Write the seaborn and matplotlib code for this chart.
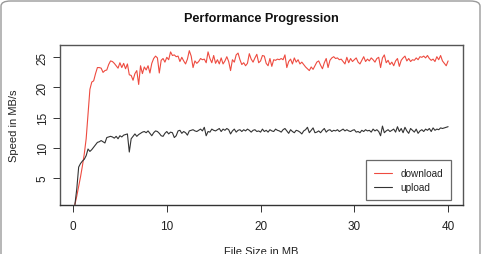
import numpy as np
import pandas as pd
import matplotlib
matplotlib.use("Agg")
import matplotlib.pyplot as plt
from matplotlib.patches import FancyBboxPatch
from matplotlib.lines import Line2D
import seaborn as sns

# ---- data ----
download = [
    0.6, 2.0, 3.6, 5.2, 7.0, 9.0, 11.5, 15.5, 19.7, 20.9,
    21.1, 22.3, 23.3, 23.3, 23.2, 22.5, 22.8, 22.9, 23.8, 24.4,
    24.3, 24.0, 23.6, 23.2, 24.1, 23.3, 24.0, 23.1, 23.9, 22.1,
    22.0, 21.2, 22.3, 22.8, 20.5, 23.6, 22.3, 23.4, 22.9, 23.6,
    22.4, 24.0, 24.8, 25.2, 24.9, 22.4, 24.5, 24.8, 24.2, 25.0,
    24.6, 25.9, 25.3, 25.4, 25.1, 25.2, 24.3, 25.0, 24.4, 23.9,
    24.7, 26.1, 25.2, 23.3, 24.4, 24.0, 24.3, 24.8, 24.6, 24.7,
    24.1, 25.9, 24.8, 24.1, 25.3, 24.0, 24.6, 23.9, 24.9, 23.9,
    24.4, 25.1, 24.3, 22.8, 24.6, 24.2, 25.4, 25.7, 24.6, 23.8,
    24.1, 23.6, 24.0, 25.6, 24.7, 24.2, 24.9, 25.5, 24.1, 24.4,
    25.3, 25.2, 24.0, 23.6, 24.8, 23.5, 24.6, 24.5, 24.7, 24.6,
    24.8, 24.6, 25.4, 23.3, 24.3, 24.7, 23.9, 24.9, 24.2, 24.6,
    23.9, 24.2, 23.8, 23.4, 23.1, 22.8, 23.4, 23.0, 23.6, 24.2,
    24.4, 23.7, 23.1, 24.1, 24.8, 23.3, 24.5, 24.9, 25.1, 24.8,
    24.9, 24.6, 24.7, 24.3, 23.9, 25.0, 24.1, 24.8, 24.3, 24.6,
    24.9, 24.2, 23.9, 24.5, 25.1, 24.3, 24.7, 24.4, 24.9, 24.6,
    24.2, 24.8, 25.0, 23.3, 24.9, 25.4, 24.1, 24.5, 23.8, 24.2,
    23.6, 24.4, 24.8, 23.5, 24.5, 24.9, 25.2, 24.4, 24.8, 24.3,
    24.6, 24.5, 24.9, 24.6, 25.1, 25.0, 25.2, 24.9, 25.3, 24.8,
    24.5, 24.7, 24.3, 25.1, 24.6, 25.3, 24.4, 24.0, 23.6, 24.4,
]
upload = [
    0.6, 3.2, 6.8, 7.4, 7.8, 8.1, 8.7, 9.8, 9.4, 9.7,
    10.1, 10.5, 10.9, 11.0, 11.2, 11.0, 10.8, 11.7, 11.8, 11.9,
    11.8, 11.6, 11.9, 11.5, 12.0, 11.8, 12.1, 12.2, 12.3, 9.3,
    11.5, 11.9, 12.3, 11.9, 12.2, 12.4, 12.6, 12.7, 12.5, 12.8,
    12.4, 12.0, 12.5, 12.8, 12.7, 12.4, 12.0, 11.9, 12.4, 12.7,
    12.3, 12.6, 12.5, 11.7, 12.0, 12.8, 12.9, 12.4, 12.7, 12.5,
    12.1, 12.8, 12.9, 13.0, 12.8, 12.7, 12.9, 13.1, 12.8, 13.4,
    12.0, 12.7, 12.6, 13.1, 12.9, 12.8, 13.0, 13.2, 12.7, 13.1,
    12.9, 13.2, 13.0, 12.3, 12.8, 13.1, 12.6, 12.9, 13.0, 12.7,
    13.0, 12.8, 13.1, 12.9, 12.6, 12.9, 13.0, 12.7, 12.8, 12.6,
    13.1, 12.7, 12.9, 12.6, 13.0, 12.8, 12.7, 13.1, 12.9, 12.8,
    12.6, 13.0, 13.2, 12.8, 12.4, 13.0, 12.7, 12.5, 12.9, 12.8,
    12.6, 12.3, 12.8, 13.0, 13.4, 12.5, 12.9, 13.3, 12.5, 12.6,
    12.8, 12.5, 12.9, 13.2, 12.6, 12.9, 13.0, 12.7, 12.9, 12.8,
    13.0, 12.7, 12.9, 13.1, 12.8, 13.0, 12.8, 12.7, 12.9, 13.0,
    12.6, 12.7, 12.5, 12.9, 12.7, 13.0, 12.8, 12.9, 12.6, 13.1,
    12.8, 13.0, 12.7, 12.0, 13.6, 12.5, 12.8, 13.0, 12.7, 12.9,
    13.1, 12.6, 13.5, 12.7, 13.2, 12.5, 13.4, 12.8, 12.4, 13.2,
    12.9, 12.6, 13.1, 12.4, 12.8, 13.0, 12.7, 13.1, 12.9, 13.2,
    12.7, 13.3, 12.9, 13.1, 13.0, 13.3, 13.2, 13.3, 13.4, 13.5,
]
file_size = np.round(np.arange(1, len(download) + 1) * 0.2, 1)
series_names = ["download", "upload"]
series_colors = ["#EE4B40", "#333333"]
x_ticks = [0, 10, 20, 30, 40]
y_ticks = [5, 10, 15, 20, 25]

df = pd.DataFrame({
    "size": np.concatenate([file_size, file_size]),
    "speed": np.concatenate([download, upload]),
    "kind": ["download"] * len(download) + ["upload"] * len(upload),
})

sns.set_style("white")
plt.rcParams["font.family"] = ["Liberation Sans", "DejaVu Sans"]

W, H = 482, 255
fig = plt.figure(figsize=(W / 100, H / 100), dpi=100)
ax = fig.add_axes([60 / W, 1 - 206 / H, (463 - 60) / W, (206 - 46) / H])

sns.lineplot(data=df, x="size", y="speed", hue="kind", hue_order=series_names,
             palette=series_colors, linewidth=0.8, ax=ax, legend=False)

ax.set_xlim(-1.39, 41.59)
ax.set_ylim(0.52, 27.04)
ax.set_xticks(x_ticks)
ax.set_yticks(y_ticks)
ax.set_xticklabels([str(t) for t in x_ticks], fontsize=8.5, color="#222222")
ax.set_yticklabels([str(t) for t in y_ticks], fontsize=8.5, color="#222222",
                   rotation=90, va="center")
ax.tick_params(axis="both", direction="out", length=5, width=0.7, color="#333333",
               bottom=True, left=True)
ax.tick_params(axis="x", pad=6)
ax.tick_params(axis="y", pad=3)
ax.set_xlabel("")
ax.set_ylabel("")
for s in ax.spines.values():
    s.set_visible(True)
    s.set_color("#555555")
    s.set_linewidth(1.0)
ax.spines["bottom"].set_color("#333333")

handles = [Line2D([], [], color=c, lw=0.8) for c in series_colors]
leg = ax.legend(handles, series_names, loc="lower right",
                bbox_to_anchor=(0.970, 0.031), borderaxespad=0,
                fontsize=7.2, frameon=True, fancybox=False,
                handlelength=1.8, handletextpad=0.8, borderpad=0.8,
                labelspacing=0.4)
leg.get_frame().set_edgecolor("#444444")
leg.get_frame().set_linewidth(0.9)
for t in leg.get_texts():
    t.set_color("#222222")

fig.text(261.5 / W, 1 - 19.5 / H, "Performance Progression", ha="center",
         va="center", fontsize=9.1, fontweight="bold", color="#111111")
fig.text(14 / W, 1 - 126 / H, "Speed in MB/s", rotation=90, ha="center",
         va="center", fontsize=8, color="#222222")
fig.text(261.5 / W, 1 - 252 / H, "File Size in MB", ha="center",
         va="center", fontsize=8, color="#222222")

border = FancyBboxPatch((1 / W, -20 / H), (W - 3) / W, (H + 18) / H,
                        boxstyle="round,pad=0,rounding_size=0.02",
                        transform=fig.transFigure, fill=False,
                        edgecolor="#9a9a9a", linewidth=1.0)
fig.patches.append(border)

fig.savefig("out.png", dpi=100)
